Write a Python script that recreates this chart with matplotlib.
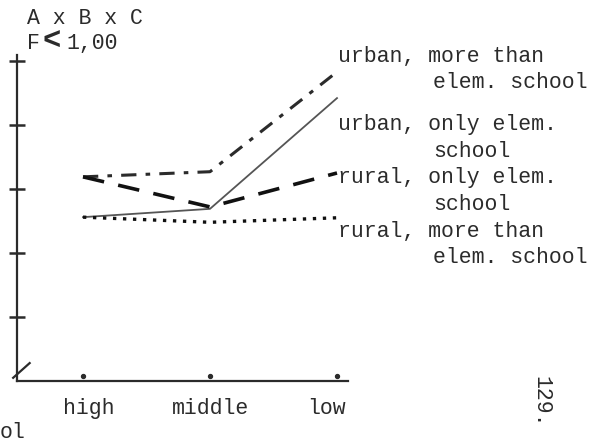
"""Interaction plot A x B x C, typewriter style."""
import matplotlib
matplotlib.use('Agg')
import matplotlib.pyplot as plt

categories = ['high', 'middle', 'low']
urban_more = [3.19, 3.27, 4.83]
urban_elem = [2.56, 2.69, 4.42]
rural_elem = [3.19, 2.72, 3.25]
rural_more = [2.56, 2.48, 2.55]
y_ticks = [1, 2, 3, 4, 5]

W, H = 603, 442
INK = '#2b2b2b'
FONT = 'Liberation Mono'


def px(x, y):
    """Convert pixel position (from top-left) to figure fraction."""
    return x / W, 1 - y / H


def put(x, y, s, **kw):
    fx, fy = px(x, y)
    kw.setdefault('fontsize', 15.5)
    kw.setdefault('color', INK)
    kw.setdefault('family', FONT)
    kw.setdefault('va', 'baseline')
    fig.text(fx, fy, s, **kw)


fig = plt.figure(figsize=(W / 100, H / 100), dpi=100)
fig.patch.set_facecolor('white')

left, right, top, bottom = 17, 348, 55, 381
ax = fig.add_axes([left / W, (H - bottom) / H,
                   (right - left) / W, (bottom - top) / H])
x = range(len(categories))
ax.set_xlim((left - 83) / 127, (right - 83) / 127)
ax.set_ylim(0, (bottom - top) / 64)

ax.plot(x, urban_more, color=INK, lw=2.2, dashes=(5, 3, 1.5, 3))
ax.plot(x, urban_elem, color='#555555', lw=1.3)
ax.plot(x, rural_elem, color='#111111', lw=2.6, dashes=(6, 4))
ax.plot(x, rural_more, color='#111111', lw=2.4, dashes=(1, 2))

# little dots marking the category positions on the baseline
ax.scatter(x, [0.08] * 3, s=8, color=INK, zorder=3, clip_on=False)
# slash at the origin
ax.plot([-0.55, -0.42], [0.05, 0.28], color=INK, lw=1.6, clip_on=False)

for side in ('top', 'right'):
    ax.spines[side].set_visible(False)
for side in ('left', 'bottom'):
    ax.spines[side].set_linewidth(1.6)
    ax.spines[side].set_color(INK)
ax.set_xticks([])
ax.set_yticks(y_ticks)
ax.set_yticklabels([])
ax.tick_params(axis='y', direction='inout', length=11, width=1.8,
               colors=INK)
ax.patch.set_alpha(0)

put(27, 24, 'A x B x C')
put(27, 49, 'F')
put(42, 50, '<', fontsize=22, fontweight='bold')
put(66, 49, '1,00')

put(338, 62, 'urban, more than')
put(433, 88, 'elem. school')
put(338, 130, 'urban, only elem.')
put(433, 157, 'school')
put(338, 183, 'rural, only elem.')
put(433, 210, 'school')
put(338, 237, 'rural, more than')
put(433, 263, 'elem. school')

put(89, 414, categories[0], ha='center')
put(211, 414, categories[1], ha='center')
put(327, 414, categories[2], ha='center')
put(0, 438, 'ol')
put(541, 376, '129.', rotation=-90, va='top', ha='center')

fig.savefig('out.png', dpi=100, facecolor='white')
